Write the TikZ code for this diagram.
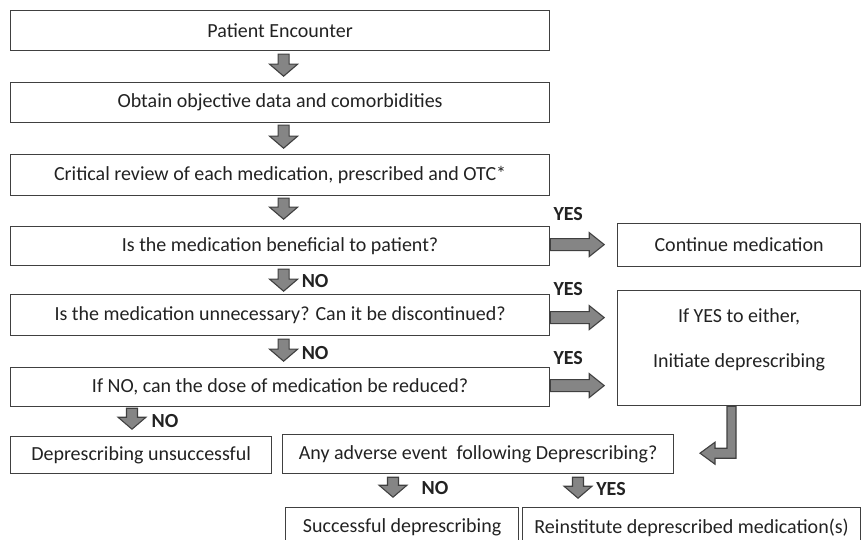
\documentclass[tikz,border=0pt]{standalone}
\usepackage{fontspec}
\setmainfont{Carlito}
\usetikzlibrary{calc}
\definecolor{edge}{HTML}{404040}
\definecolor{afill}{HTML}{858585}
\definecolor{txt}{HTML}{222222}
\tikzset{
  box/.style={draw=edge, line width=1.2pt, anchor=north west, inner sep=0pt,
    text=txt, font=\fontsize{20}{24}\selectfont},
  blockarrow/.style={draw=edge, fill=afill, line width=1.1pt, line join=miter},
  lab/.style={font=\bfseries\fontsize{20}{24}\selectfont, text=txt, inner sep=0pt},
  plain/.style={font=\fontsize{20}{24}\selectfont, text=txt, inner sep=0pt}
}
% down block arrow: #1 top point, #2 total length
\newcommand\dnblock[2]{\draw[blockarrow] #1 ++(-5.5,0) -- ++(0,{#2-12}) -- ++(-8.5,0) -- ++(14,12) -- ++(14,-12) -- ++(-8.5,0) -- ++(0,{-(#2-12)}) -- cycle;}
% right block arrow: #1 start point, #2 total length
\newcommand\rtblock[2]{\draw[blockarrow] #1 ++(0,-6) -- ++({#2-15},0) -- ++(0,-6) -- ++(15,12) -- ++(-15,12) -- ++(0,-6) -- ++({-(#2-15)},0) -- cycle;}
\begin{document}
\begin{tikzpicture}[x=1pt,y=-1pt]
\useasboundingbox (0,0) rectangle (863,540);
\clip (0,0) rectangle (863,540);
% main column
\node[box, minimum width=539pt, minimum height=40pt] (b1) at (10,10) {Patient Encounter};
\node[box, minimum width=539pt, minimum height=40pt] (b2) at (10,82) {Obtain objective data and comorbidities};
\node[box, minimum width=539pt, minimum height=41pt] (b3) at (10,154) {Critical review of each medication, prescribed and OTC*};
\node[box, minimum width=539pt, minimum height=39pt] (b4) at (10,226) {Is the medication beneficial to patient?};
\node[box, minimum width=539pt, minimum height=41pt] (b5) at (10,294) {Is the medication unnecessary? Can it be discontinued?};
\node[box, minimum width=539pt, minimum height=39pt] (b6) at (10,367) {If NO, can the dose of medication be reduced?};
\node[box, minimum width=261pt, minimum height=37pt] (b7) at (10,436) {Deprescribing unsuccessful};
\node[box, minimum width=391pt, minimum height=39pt] (adv) at (282,434) {Any adverse event\ \ following Deprescribing?};
% right column
\node[box, minimum width=243pt, minimum height=43pt] (cont) at (617,223) {Continue medication};
\node[box, minimum width=243pt, minimum height=115pt] (yes) at (617,290) {};
\node[plain, align=center] (yestext) at ($(yes.center)+(0,-8)$) {If YES to either,\\[21pt]Initiate deprescribing};
% bottom row
\node[box, minimum width=233pt, minimum height=40pt] (succ) at (285,507) {\raisebox{-2pt}{Successful deprescribing}};
\node[box, minimum width=338pt, minimum height=40pt] (rein) at (522,507) {\raisebox{-2pt}{Reinstitute deprescribed medication(s)}};
% vertical arrows
\dnblock{($(b1.south)+(3.5,3)$)}{22}
\dnblock{($(b2.south)+(3.5,2)$)}{23}
\dnblock{($(b3.south)+(3.5,2)$)}{21}
\dnblock{($(b4.south)+(3.5,3)$)}{22}
\dnblock{($(b5.south)+(3.5,3)$)}{22}
\dnblock{($(b6.south west)+(122,1)$)}{21}
\dnblock{($(adv.south west)+(111,3)$)}{20}
\dnblock{($(adv.south west)+(296,3)$)}{21}
% NO / YES labels
\node[lab] (no1) at ($(b4.south)+(35,15)$) {NO};
\node[lab] (no2) at ($(b5.south)+(35,17)$) {NO};
\node[lab] (no3) at ($(b6.south west)+(155,14)$) {NO};
\node[lab] (no4) at ($(adv.south west)+(153,14)$) {NO};
\node[lab] (yes4) at ($(adv.south west)+(329,15)$) {YES};
% horizontal arrows
\rtblock{($(b4.east)+(0,-1.5)$)}{54}
\rtblock{($(b5.east)+(0,2.5)$)}{54}
\rtblock{($(b6.east)+(0,-1.5)$)}{54}
\node[lab] (yes1) at ($(b4.north east)+(18,-12)$) {YES};
\node[lab] (yes2) at ($(b5.north east)+(18,-5)$) {YES};
\node[lab] (yes3) at ($(b6.north east)+(18,-9)$) {YES};
% elbow arrow from yes box to adverse box
\coordinate (ytop) at ($(yes.south west)+(110,0)$);
\draw[blockarrow] (ytop) -- ++(9,0) -- ++(0,52) -- ++(-21,0) -- ++(0,6) -- ++(-15,-11) -- ++(15,-11) -- ++(0,6) -- ++(12,0) -- cycle;
\end{tikzpicture}
\end{document}
